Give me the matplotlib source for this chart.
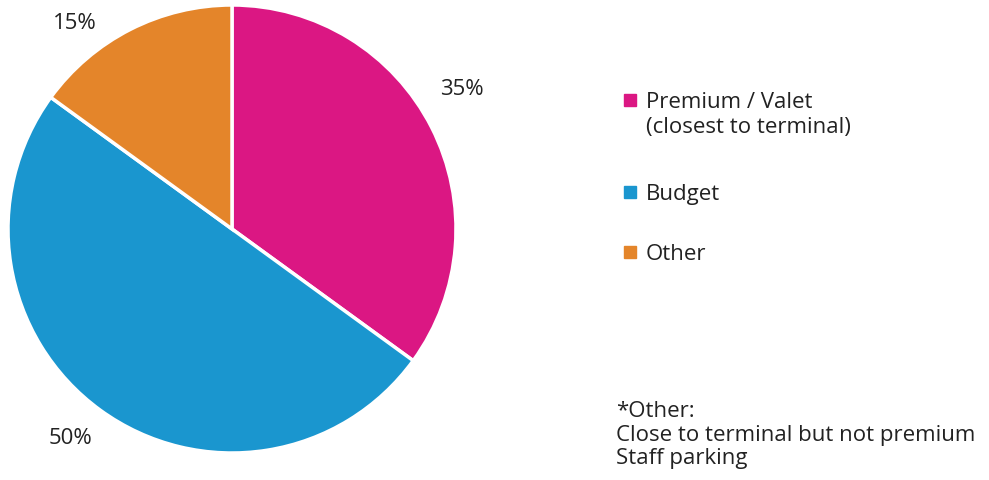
import matplotlib.pyplot as plt
from matplotlib.patches import Rectangle

plt.rcParams['font.family'] = ['Open Sans', 'DejaVu Sans']

# parking category shares
categories = ['Premium / Valet\n(closest to terminal)', 'Budget', 'Other']
shares = [35, 50, 15]
colors = ['#DB1783', '#1A96CF', '#E4852A']
# where each percentage sits, in pie data units
label_pos = [(1.027, 0.625), (-0.723, -0.929), (-0.701, 0.924)]

footnote = '*Other:\nClose to terminal but not premium\nStaff parking'

W, H = 989, 481
fig = plt.figure(figsize=(W / 100, H / 100), dpi=100)

ax = fig.add_axes([8 / W, 27 / H, 448 / W, 448 / H])
wedges, texts = ax.pie(shares, colors=colors, startangle=90, counterclock=False,
                       labels=[f'{s}%' for s in shares], radius=1,
                       wedgeprops=dict(edgecolor='white', linewidth=2.5),
                       textprops=dict(fontsize=16, color='#222222'))
for t, (x, y) in zip(texts, label_pos):
    t.set_position((x, y))
    t.set_ha('center')
    t.set_va('center')
ax.set_xlim(-1, 1)
ax.set_ylim(-1, 1)
ax.set_aspect('equal')
ax.axis('off')

# legend drawn by hand: square marker + label
legend_y = [101, 193, 253]
for lab, c, y in zip(categories, colors, legend_y):
    fig.patches.append(Rectangle((624 / W, (H - y - 6) / H), 12 / W, 12 / H,
                                 transform=fig.transFigure, color=c))
    fig.text(646 / W, (H - y + 9) / H, lab, fontsize=16, color='#222222',
             ha='left', va='top', linespacing=1.27)

fig.text(616 / W, (H - 401) / H, footnote, fontsize=16, color='#222222',
         ha='left', va='top', linespacing=1.17)

fig.savefig('out.png', dpi=100)
